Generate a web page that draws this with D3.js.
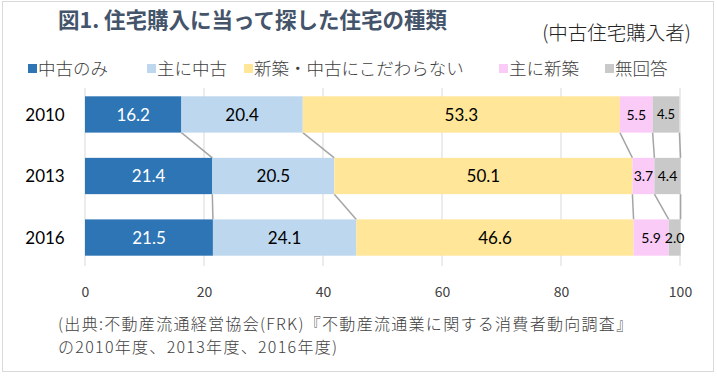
<!DOCTYPE html>
<html>
<head>
<meta charset="utf-8">
<script src="https://cdn.jsdelivr.net/npm/d3@7"></script>
<style>
  body { margin: 0; background: #fff; }
  svg { display: block; }
</style>
</head>
<body>
<div class="chart"></div>
<script>
// data
const years = ["2010", "2013", "2016"];
const seriesNames = ["中古のみ", "主に中古", "新築・中古にこだわらない", "主に新築", "無回答"];
const chukoOnly = [16.2, 21.4, 21.5];
const mainlyChuko = [20.4, 20.5, 24.1];
const noPreference = [53.3, 50.1, 46.6];
const mainlyShinchiku = [5.5, 3.7, 5.9];
const noAnswer = [4.5, 4.4, 2.0];
const ticks = [0, 20, 40, 60, 80, 100];

const colors = ["#2E75B6", "#BDD7EE", "#FFE699", "#FBCBF7", "#C9C9C9"];
const labelColors = ["#ffffff", "#000000", "#000000", "#000000", "#000000"];
const labelSizes = [[17, 17, 17, 14, 13], [17, 17, 17, 14, 14], [17, 17, 17, 14, 14]];

const W = 717, H = 376;
const jp = "'Noto Sans CJK JP', sans-serif";
const num = "Lato, 'Liberation Sans', sans-serif";

const svg = d3.select('.chart').append('svg')
    .attr('width', W).attr('height', H);

// outer frame
svg.append('rect')
    .attr('x', 2.5).attr('y', 1.5)
    .attr('width', 711).attr('height', 370)
    .attr('fill', '#fff').attr('stroke', '#D9D9D9');

const x = d3.scaleLinear().domain([0, 100]).range([85, 680]);
const y = d3.scaleBand().domain(years).range([84, 268]).paddingInner(0.41).paddingOuter(0.2);

// stack the values
const table = years.map((yr, i) => ({
    year: yr,
    s0: chukoOnly[i], s1: mainlyChuko[i], s2: noPreference[i], s3: mainlyShinchiku[i], s4: noAnswer[i]
}));
const stack = d3.stack().keys(["s0", "s1", "s2", "s3", "s4"])(table);

// gridlines
svg.append('g')
    .selectAll('line')
    .data(ticks)
    .enter()
    .append('line')
    .attr('x1', d => x(d)).attr('x2', d => x(d))
    .attr('y1', 88).attr('y2', 266)
    .attr('stroke', '#D9D9D9').attr('stroke-width', 1);

// series lines between bars
stack.forEach(function(s) {
    for (let i = 0; i < years.length - 1; i++) {
        svg.append('line')
            .attr('x1', x(s[i][1])).attr('y1', y(years[i]) + y.bandwidth())
            .attr('x2', x(s[i + 1][1])).attr('y2', y(years[i + 1]))
            .attr('stroke', '#A5A5A5').attr('stroke-width', 1.5);
    }
});

// bars
const layer = svg.selectAll('.layer')
    .data(stack)
    .enter()
    .append('g')
    .attr('class', 'layer')
    .attr('fill', (d, i) => colors[i]);

layer.selectAll('rect')
    .data(d => d)
    .enter()
    .append('rect')
    .attr('x', d => x(d[0]))
    .attr('y', d => y(d.data.year))
    .attr('width', d => x(d[1]) - x(d[0]))
    .attr('height', y.bandwidth());

// value labels
stack.forEach(function(s, k) {
    svg.append('g').selectAll('text')
        .data(s)
        .enter()
        .append('text')
        .attr('x', d => (x(d[0]) + x(d[1])) / 2)
        .attr('y', d => y(d.data.year) + y.bandwidth() / 2)
        .attr('dy', '0.36em')
        .attr('text-anchor', 'middle')
        .attr('font-family', num)
        .attr('font-size', (d, i) => labelSizes[i][k])
        .attr('fill', labelColors[k])
        .text(d => (d[1] - d[0]).toFixed(1));
});

// year labels
svg.append('g').selectAll('text')
    .data(years)
    .enter()
    .append('text')
    .attr('x', 45)
    .attr('y', d => y(d) + y.bandwidth() / 2)
    .attr('dy', '0.36em')
    .attr('text-anchor', 'middle')
    .attr('font-family', num)
    .attr('font-size', 17)
    .attr('fill', '#000')
    .text(d => d);

// x axis labels
const axis = svg.append('g')
    .attr('transform', 'translate(0,292)')
    .call(d3.axisBottom(x).tickValues(ticks).tickSize(0).tickPadding(0));
axis.select('.domain').remove();
axis.selectAll('text')
    .attr('dy', '0.36em')
    .attr('font-family', "'Noto Sans CJK JP', sans-serif")
    .attr('font-size', 14)
    .attr('fill', '#404040');

// title
svg.append('text')
    .attr('x', 58).attr('y', 28)
    .attr('font-family', jp)
    .attr('font-weight', 'bold')
    .attr('font-size', 21.5)
    .attr('fill', '#44546A')
    .text('図1. 住宅購入に当って探した住宅の種類');

svg.append('text')
    .attr('x', 691).attr('y', 40)
    .attr('text-anchor', 'end')
    .attr('font-family', jp)
    .attr('font-weight', 300)
    .attr('font-size', 19.5)
    .attr('fill', '#222')
    .text('(中古住宅購入者)');

// legend
const legendX = [28, 147, 244, 499, 605];
const legend = svg.selectAll('.legend')
    .data(seriesNames)
    .enter()
    .append('g')
    .attr('class', 'legend')
    .attr('transform', (d, i) => `translate(${legendX[i]},69)`);
legend.append('rect')
    .attr('x', 0).attr('y', -5)
    .attr('width', 9).attr('height', 9)
    .attr('fill', (d, i) => colors[i]);
legend.append('text')
    .attr('x', 10).attr('dy', '0.36em')
    .attr('font-family', jp)
    .attr('font-weight', 300)
    .attr('font-size', 17.5)
    .attr('fill', '#404040')
    .text(d => d);

// source note
const note = ["(出典:不動産流通経営協会(FRK)『不動産流通業に関する消費者動向調査』", "の2010年度、2013年度、2016年度)"];
svg.append('g').selectAll('text')
    .data(note)
    .enter()
    .append('text')
    .attr('x', 58)
    .attr('y', (d, i) => 324 + i * 23.5)
    .attr('dy', '0.36em')
    .attr('font-family', jp)
    .attr('font-weight', 300)
    .attr('font-size', 16)
    .attr('letter-spacing', 1.3)
    .attr('fill', '#404040')
    .text(d => d);
</script>
</body>
</html>
